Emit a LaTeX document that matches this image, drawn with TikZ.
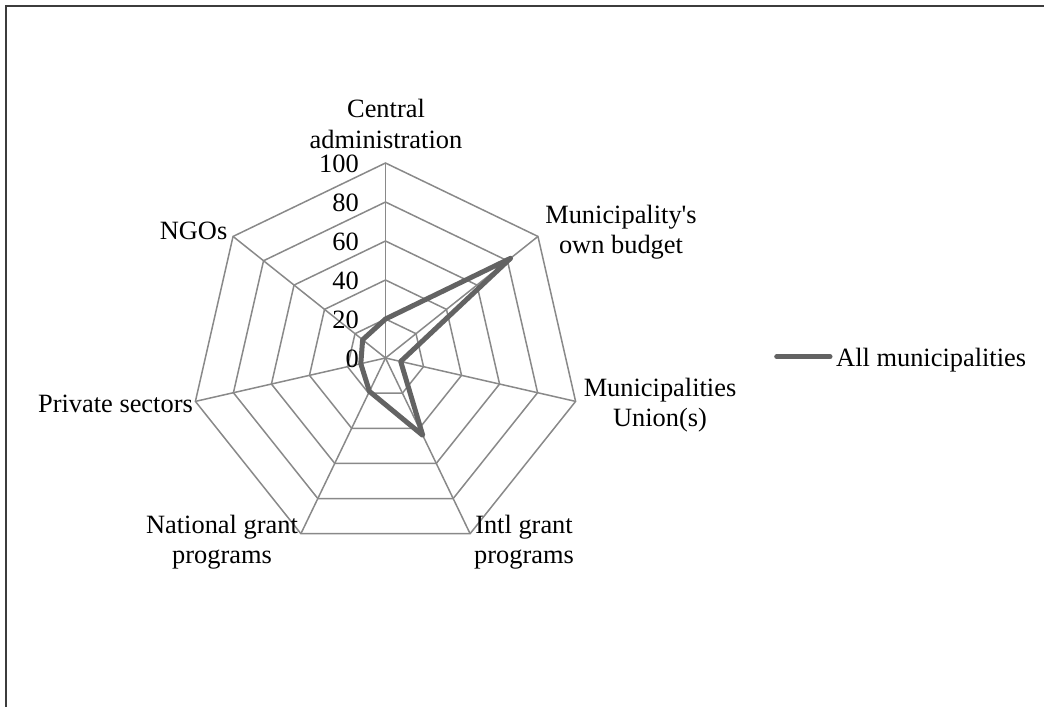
\documentclass[tikz,border=0pt]{standalone}
\usepackage{fontspec}
\setmainfont{Liberation Serif}[Ligatures=TeXOff]
\definecolor{gridgray}{RGB}{137,137,137}
\definecolor{seriesgray}{RGB}{99,99,99}
\definecolor{framegray}{RGB}{60,60,60}
\begin{document}
\begin{tikzpicture}[x=1pt,y=1pt,
  grid/.style={draw=gridgray, line width=1.5pt, line join=miter},
  series/.style={draw=seriesgray, line width=5pt, line join=round},
  frameline/.style={draw=framegray, line width=2pt},
  lbl/.style={font=\fontsize{26.4}{30.4}\selectfont, inner sep=0pt, align=center, text=black},
  ticklbl/.style={lbl, anchor=east},
  legline/.style={draw=seriesgray, line width=5pt, line cap=round},
]
\useasboundingbox (0,0) rectangle (1044,-707);
% outer chart frame (only top and left edges visible)
\coordinate (fa) at (1044,-6);
\coordinate (fb) at (5.5,-6);
\coordinate (fc) at (5.5,-707);
\draw[frameline] (fa) -- (fb) -- (fc);

\begin{scope}[shift={(385.5,-358)}]
  \coordinate (ctr) at (0,0);
  % concentric heptagons
  \foreach \i in {1,...,5} {
    \draw[grid] (90:{\i*39}) \foreach \k in {1,...,6} { -- ({90-\k*360/7}:{\i*39}) } -- cycle;
  }
  % spokes
  \foreach \k in {0,...,6} {
    \coordinate (ax\k) at ({90-\k*360/7}:195);
    \draw[grid] (ctr) -- (ax\k);
  }
  % tick labels
  \foreach \v [count=\j from 0] in {0,20,40,60,80,100} {
    \node[ticklbl] (tick\v) at (-26.5,{\j*39-0.5}) {\v};
  }
  % data series (values in percent)
  \coordinate (d0) at ({90-0*360/7}:{20*1.95});
  \coordinate (d1) at ({90-1*360/7}:{82*1.95});
  \coordinate (d2) at ({90-2*360/7}:{8*1.95});
  \coordinate (d3) at ({90-3*360/7}:{44*1.95});
  \coordinate (d4) at ({90-4*360/7}:{19*1.95});
  \coordinate (d5) at ({90-5*360/7}:{13*1.95});
  \coordinate (d6) at ({90-6*360/7}:{15*1.95});
  \draw[series] (d0) -- (d1) -- (d2) -- (d3) -- (d4) -- (d5) -- (d6) -- cycle;
\end{scope}

% category labels
\node[lbl] (lc) at (386,-124) {Central\\administration};
\node[lbl] (lb) at (621,-232) {Municipality's\\own budget};
\node[lbl] (lu) at (660,-405) {Municipalities\\Union(s)};
\node[lbl] (li) at (524,-542) {Intl grant\\programs};
\node[lbl] (ln) at (222,-542) {National grant\\programs};
\node[lbl, anchor=east] (lp) at (193,-404) {Private sectors};
\node[lbl, anchor=east] (lg) at (227.5,-231) {NGOs};

% legend
\coordinate (la) at (776.7,-356.7);
\coordinate (lz) at (830,-356.7);
\draw[legline] (la) -- (lz);
\node[lbl, anchor=west] (legtext) at (836,-360) {All municipalities};
\end{tikzpicture}
\end{document}
